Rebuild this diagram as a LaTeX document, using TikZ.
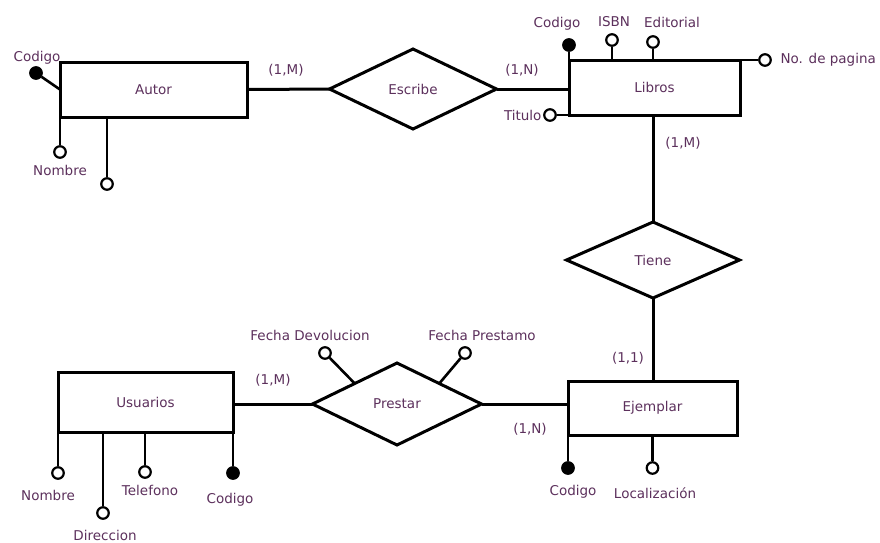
\documentclass[tikz,border=0pt]{standalone}
\usepackage{fontspec}
\setmainfont{DejaVu Sans}
\usetikzlibrary{shapes.geometric}
\definecolor{txt}{RGB}{92,48,92}
\begin{document}
\begin{tikzpicture}[x=1pt,y=-1pt,
  every node/.style={font=\fontsize{13.5}{15}\selectfont, text=txt},
  ent/.style={draw=black, line width=3pt, rectangle, inner sep=0pt, outer sep=0pt},
  rel/.style={draw=black, line width=3pt, diamond, inner sep=0pt, outer sep=0pt, aspect=2},
  att/.style={draw=black, line width=2.2pt, circle, fill=white, inner sep=0pt, minimum size=11.5pt},
  key/.style={draw=black, line width=2.2pt, circle, fill=black, inner sep=0pt, minimum size=11.5pt},
  lnk/.style={line width=3pt, black},
  alnk/.style={line width=2.6pt, black}]
\useasboundingbox (0,0) rectangle (880,542);

% entities
\node[ent, minimum width=187pt, minimum height=55pt] (autor) at (153.5,89.5) {Autor};
\node[ent, minimum width=171pt, minimum height=55pt] (libros) at (654.5,87.5) {Libros};
\node[ent, minimum width=169pt, minimum height=54pt] (ejemplar) at (652.5,408) {Ejemplar};
\node[ent, minimum width=175pt, minimum height=60pt] (usuarios) at (145.5,402) {Usuarios};

% relationships
\node[rel, minimum width=167pt, minimum height=80pt] (escribe) at (413,89) {Escribe};
\node[rel, minimum width=173pt, minimum height=76pt] (tiene) at (653,260) {Tiene};
\node[rel, minimum width=169pt, minimum height=82pt] (prestar) at (397,404) {Prestar};

% connectors
\draw[lnk] (autor.east) -- (escribe.west);
\draw[lnk] (escribe.east) -- (escribe.east -| libros.west);
\draw[lnk] (tiene.north |- libros.south) -- (tiene.north);
\draw[lnk] (tiene.south) -- (tiene.south |- ejemplar.north);
\draw[lnk] (prestar.west -| usuarios.east) -- (prestar.west);
\draw[lnk] (prestar.east) -- (prestar.east -| ejemplar.west);

% cardinalities
\node (c1) at (286,70) {(1,M)};
\node (c2) at (522,70) {(1,N)};
\node (c3) at (683,143) {(1,M)};
\node (c4) at (628,358) {(1,1)};
\node (c5) at (273,380) {(1,M)};
\node (c6) at (530,429) {(1,N)};

% Autor attributes
\node[key] (aCod) at (36,73) {};
\draw[alnk] (aCod) -- (autor.west);
\node (laCod) at (37,58) {Codigo};
\node[att] (aNom) at (60,152) {};
\draw[alnk] (autor.south west) -- (aNom.north);
\node (laNom) at (60,170) {Nombre};
\node[att] (aX) at (107,184) {};
\draw[alnk] (aX.north |- autor.south) -- (aX.north);

% Libros attributes
\node[key] (lCod) at (569,45) {};
\draw[alnk] (libros.north west) -- (lCod.south);
\node (llCod) at (557,24) {Codigo};
\node[att] (lIsbn) at (612,40) {};
\draw[alnk] (lIsbn.south) -- (lIsbn.south |- libros.north);
\node (llIsbn) at (614,22) {ISBN};
\node[att] (lEdi) at (653,42) {};
\draw[alnk] (lEdi.south) -- (lEdi.south |- libros.north);
\node (llEdi) at (672,22) {Editorial};
\node[att] (lPag) at (765,60) {};
\draw[alnk] (libros.north east) -- (lPag.west);
\node[anchor=west] (llPag) at (777,60) {No. de pagina};
\node[att] (lTit) at (550,115) {};
\draw[alnk] (libros.south west) -- (lTit.east);
\node[anchor=east] (llTit) at (545,115) {Titulo};

% Ejemplar attributes
\node[key] (eCod) at (568,468) {};
\draw[alnk] (ejemplar.south west) -- (eCod.north);
\node (leCod) at (573,492) {Codigo};
\node[att] (eLoc) at (652.5,468) {};
\draw[alnk] (ejemplar.south) -- (eLoc.north);
\node (leLoc) at (655,493) {Localización};

% Prestar attributes
\node[att] (pDev) at (325,353) {};
\draw[alnk] (prestar.north west) -- (pDev);
\node (lpDev) at (310,335) {Fecha Devolucion};
\node[att] (pPre) at (465,353) {};
\draw[alnk] (prestar.north east) -- (pPre);
\node (lpPre) at (482,335) {Fecha Prestamo};

% Usuarios attributes
\node[att] (uNom) at (58,473) {};
\draw[alnk] (usuarios.south west) -- (uNom.north);
\node (luNom) at (48,495) {Nombre};
\node[att] (uDir) at (103,513) {};
\draw[alnk] (uDir.north |- usuarios.south) -- (uDir.north);
\node (luDir) at (105,535) {Direccion};
\node[att] (uTel) at (145,472) {};
\draw[alnk] (uTel.north |- usuarios.south) -- (uTel.north);
\node (luTel) at (150,490) {Telefono};
\node[key] (uCod) at (233,473) {};
\draw[alnk] (usuarios.south east) -- (uCod.north);
\node (luCod) at (230,500) {Codigo};
\end{tikzpicture}
\end{document}
